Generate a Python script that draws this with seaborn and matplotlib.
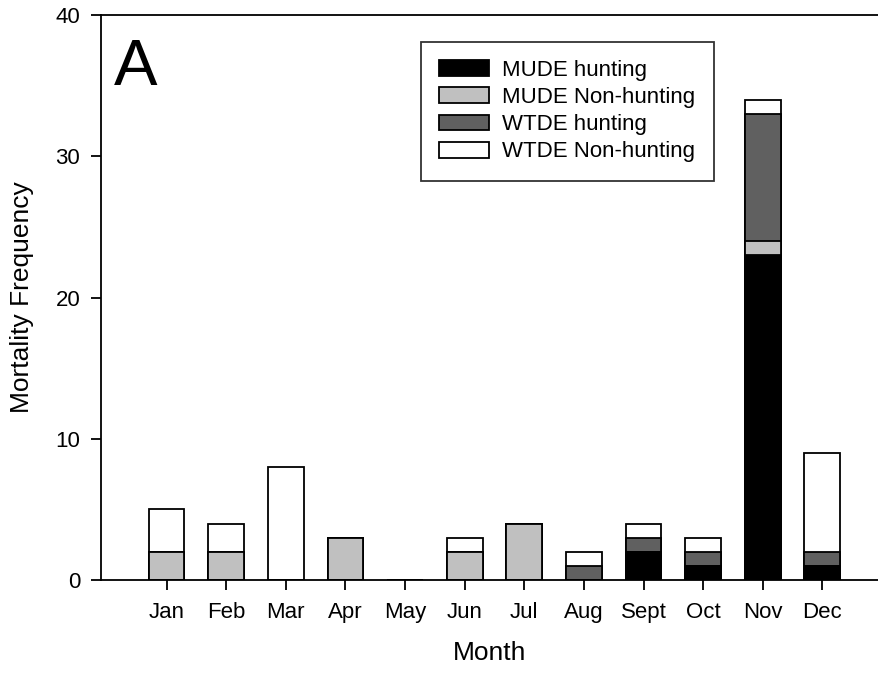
import matplotlib
matplotlib.use("Agg")
import matplotlib.pyplot as plt
import seaborn as sns
import pandas as pd
import numpy as np
from matplotlib.patches import Patch

months = ["Jan", "Feb", "Mar", "Apr", "May", "Jun", "Jul", "Aug", "Sept", "Oct", "Nov", "Dec"]
mude_hunting = [0, 0, 0, 0, 0, 0, 0, 0, 2, 1, 23, 1]
mude_nonhunting = [2, 2, 0, 3, 0, 2, 4, 0, 0, 0, 1, 0]
wtde_hunting = [0, 0, 0, 0, 0, 0, 0, 1, 1, 1, 9, 1]
wtde_nonhunting = [3, 2, 8, 0, 0, 1, 0, 1, 1, 1, 1, 7]
series_names = ["MUDE hunting", "MUDE Non-hunting", "WTDE hunting", "WTDE Non-hunting"]
colors = ["#000000", "#c0c0c0", "#606060", "#ffffff"]

sns.set_theme(style="ticks")
plt.rcParams["font.family"] = ["Liberation Sans", "DejaVu Sans"]
plt.rcParams["text.color"] = "black"
plt.rcParams["axes.labelcolor"] = "black"

fig = plt.figure(figsize=(8.79, 6.73), dpi=100)
ax = fig.add_axes([101 / 879, (673 - 580) / 673, 1 - 101 / 879, (580 - 15) / 673])

stack = np.cumsum(np.array([mude_hunting, mude_nonhunting, wtde_hunting, wtde_nonhunting]), axis=0)
df = pd.DataFrame({"Month": months})
for i in range(3, -1, -1):
    df["v"] = stack[i]
    sns.barplot(data=df, x="Month", y="v", order=months, color=colors[i], saturation=1,
                edgecolor="black", linewidth=1.3, width=0.6, ax=ax, errorbar=None)

ax.set_xlim(-1.1, 11.95)
ax.set_ylim(0, 40)
ax.set_yticks([0, 10, 20, 30, 40])
ax.spines["right"].set_visible(False)
for s in ["left", "top", "bottom"]:
    ax.spines[s].set_linewidth(1.3)
    ax.spines[s].set_color("black")
ax.tick_params(axis="both", direction="out", length=7, width=1.3, labelsize=16,
               colors="black", labelcolor="black")
ax.tick_params(axis="x", pad=9)
ax.tick_params(axis="y", pad=8)
ax.set_xlabel("Month", fontsize=19, labelpad=13, color="black")
ax.set_ylabel("Mortality Frequency", fontsize=19, labelpad=15, color="black")

ax.text(0.017, 0.96, "A", transform=ax.transAxes, fontsize=47, va="top", ha="left", color="black")

handles = [Patch(facecolor=c, edgecolor="black", linewidth=1.3) for c in colors]
leg = ax.legend(handles, series_names, loc="upper left", bbox_to_anchor=(0.411, 0.953),
                fontsize=16, frameon=True, fancybox=False, edgecolor="black",
                handlelength=2.25, handleheight=0.72, handletextpad=0.6, labelspacing=0.28,
                borderpad=0.82, borderaxespad=0)
leg.get_frame().set_linewidth(1.3)
for t in leg.get_texts():
    t.set_color("black")

fig.savefig("out.png", dpi=100)
